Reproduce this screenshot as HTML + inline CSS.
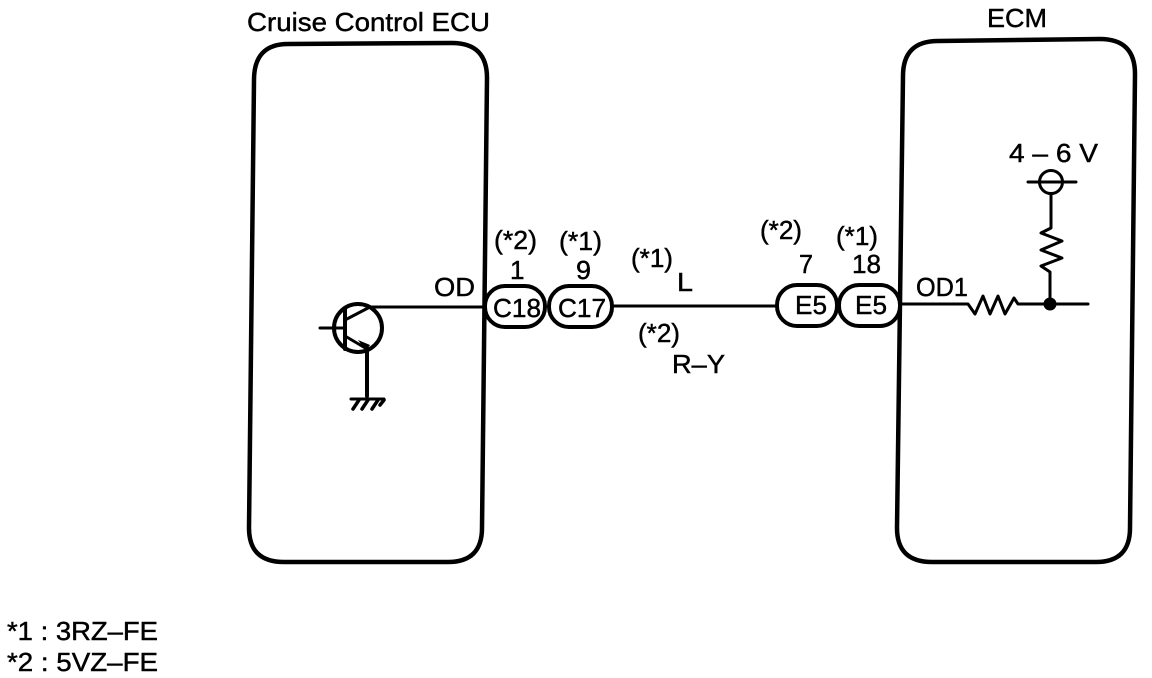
<!DOCTYPE html>
<html>
<head>
<meta charset="utf-8">
<style>
html,body{margin:0;padding:0;background:#fff;width:1152px;height:678px;overflow:hidden}
svg{display:block}
text{font-family:"Liberation Sans",sans-serif;fill:#000;stroke:#000;stroke-width:.45px}
</style>
</head>
<body>
<svg width="1152" height="678" viewBox="0 0 1152 678" xmlns="http://www.w3.org/2000/svg">
<g fill="none" stroke="#000" stroke-linejoin="round" stroke-linecap="round">
  <!-- ECU boxes -->
  <path d="M288 44 L452 43 Q487 43 487 78 L482 528 Q482 562 448 562 L284 562 Q249 562 249 528 L254 80 Q254 44 288 44 Z" stroke-width="4.5"/>
  <path d="M938 41 L1100 39 Q1135 39 1135 74 L1130 528 Q1130 562 1096 562 L932 562 Q897 562 897 528 L903 76 Q903 41 938 41 Z" stroke-width="4.5"/>
  <!-- connectors -->
  <rect x="485" y="286" width="60" height="41" rx="20" ry="20" stroke-width="4" fill="#fff"/>
  <rect x="549" y="286" width="63" height="41" rx="20" ry="20" stroke-width="4" fill="#fff"/>
  <rect x="777" y="285" width="60" height="41" rx="20" ry="20" stroke-width="4" fill="#fff"/>
  <rect x="839" y="285" width="61" height="41" rx="20" ry="20" stroke-width="4" fill="#fff"/>
  <!-- wires -->
  <path d="M368 307 H484" stroke-width="3"/>
  <path d="M613 306 H776" stroke-width="3"/>
  <path d="M901 304 H968 L975 314 L983 296 L990 314 L998 296 L1005 314 L1014 298 L1018 304 H1088" stroke-width="3"/>
  <path d="M1050 303 V272 L1041 266 L1062 258 L1041 250 L1062 241 L1041 233 L1051 228 V195" stroke-width="3"/>
  <!-- voltage point -->
  <circle cx="1051" cy="182" r="11.5" stroke-width="3"/>
  <path d="M1028 182 H1076" stroke-width="3"/>
  <!-- transistor -->
  <circle cx="358" cy="328" r="24" stroke-width="4"/>
  <path d="M345 308 V349" stroke-width="4"/>
  <path d="M320 328 H345" stroke-width="3"/>
  <path d="M345 320 L368 308" stroke-width="3"/>
  <path d="M345 336 L367 349" stroke-width="3"/>
  <path d="M367 349 V396" stroke-width="4"/>
  <path d="M351 399 H384" stroke-width="3"/>
  <path d="M353 409 L359 400 M362 409 L368 400 M372 409 L378 400 M380 405 L384 400" stroke-width="3.5"/>
</g>
<circle cx="1050" cy="304" r="6.5" fill="#000"/>
<path d="M358 340 L370 345 L366 351 Z" fill="#000"/>
<g font-size="26">
  <text x="247" y="31" textLength="243" lengthAdjust="spacingAndGlyphs">Cruise Control ECU</text>
  <text x="987" y="27" textLength="60" lengthAdjust="spacingAndGlyphs">ECM</text>
  <text x="1009" y="162" textLength="89" lengthAdjust="spacingAndGlyphs">4 – 6 V</text>
  <text x="434" y="296" textLength="41" lengthAdjust="spacingAndGlyphs">OD</text>
  <text x="916" y="296" textLength="52" lengthAdjust="spacingAndGlyphs">OD1</text>
  <text x="677" y="291" textLength="16" lengthAdjust="spacingAndGlyphs">L</text>
  <text x="672" y="373" textLength="53" lengthAdjust="spacingAndGlyphs">R–Y</text>
  <text x="494" y="249" textLength="43" lengthAdjust="spacingAndGlyphs">(*2)</text>
  <text x="559" y="250" textLength="43" lengthAdjust="spacingAndGlyphs">(*1)</text>
  <text x="631" y="267" textLength="42" lengthAdjust="spacingAndGlyphs">(*1)</text>
  <text x="760" y="239" textLength="42" lengthAdjust="spacingAndGlyphs">(*2)</text>
  <text x="836" y="245" textLength="42" lengthAdjust="spacingAndGlyphs">(*1)</text>
  <text x="638" y="342" textLength="42" lengthAdjust="spacingAndGlyphs">(*2)</text>
  <text x="510" y="279">1</text>
  <text x="576" y="279" textLength="15" lengthAdjust="spacingAndGlyphs">9</text>
  <text x="799" y="273" textLength="14" lengthAdjust="spacingAndGlyphs">7</text>
  <text x="852" y="273" textLength="29" lengthAdjust="spacingAndGlyphs">18</text>
  <text x="493" y="317" textLength="48" lengthAdjust="spacingAndGlyphs">C18</text>
  <text x="558" y="317" textLength="48" lengthAdjust="spacingAndGlyphs">C17</text>
  <text x="795" y="314" textLength="32" lengthAdjust="spacingAndGlyphs">E5</text>
  <text x="855" y="314" textLength="32" lengthAdjust="spacingAndGlyphs">E5</text>
  <text x="7" y="640" textLength="151" lengthAdjust="spacingAndGlyphs">*1 : 3RZ–FE</text>
  <text x="7" y="671" textLength="151" lengthAdjust="spacingAndGlyphs">*2 : 5VZ–FE</text>
</g>
</svg>
</body>
</html>
